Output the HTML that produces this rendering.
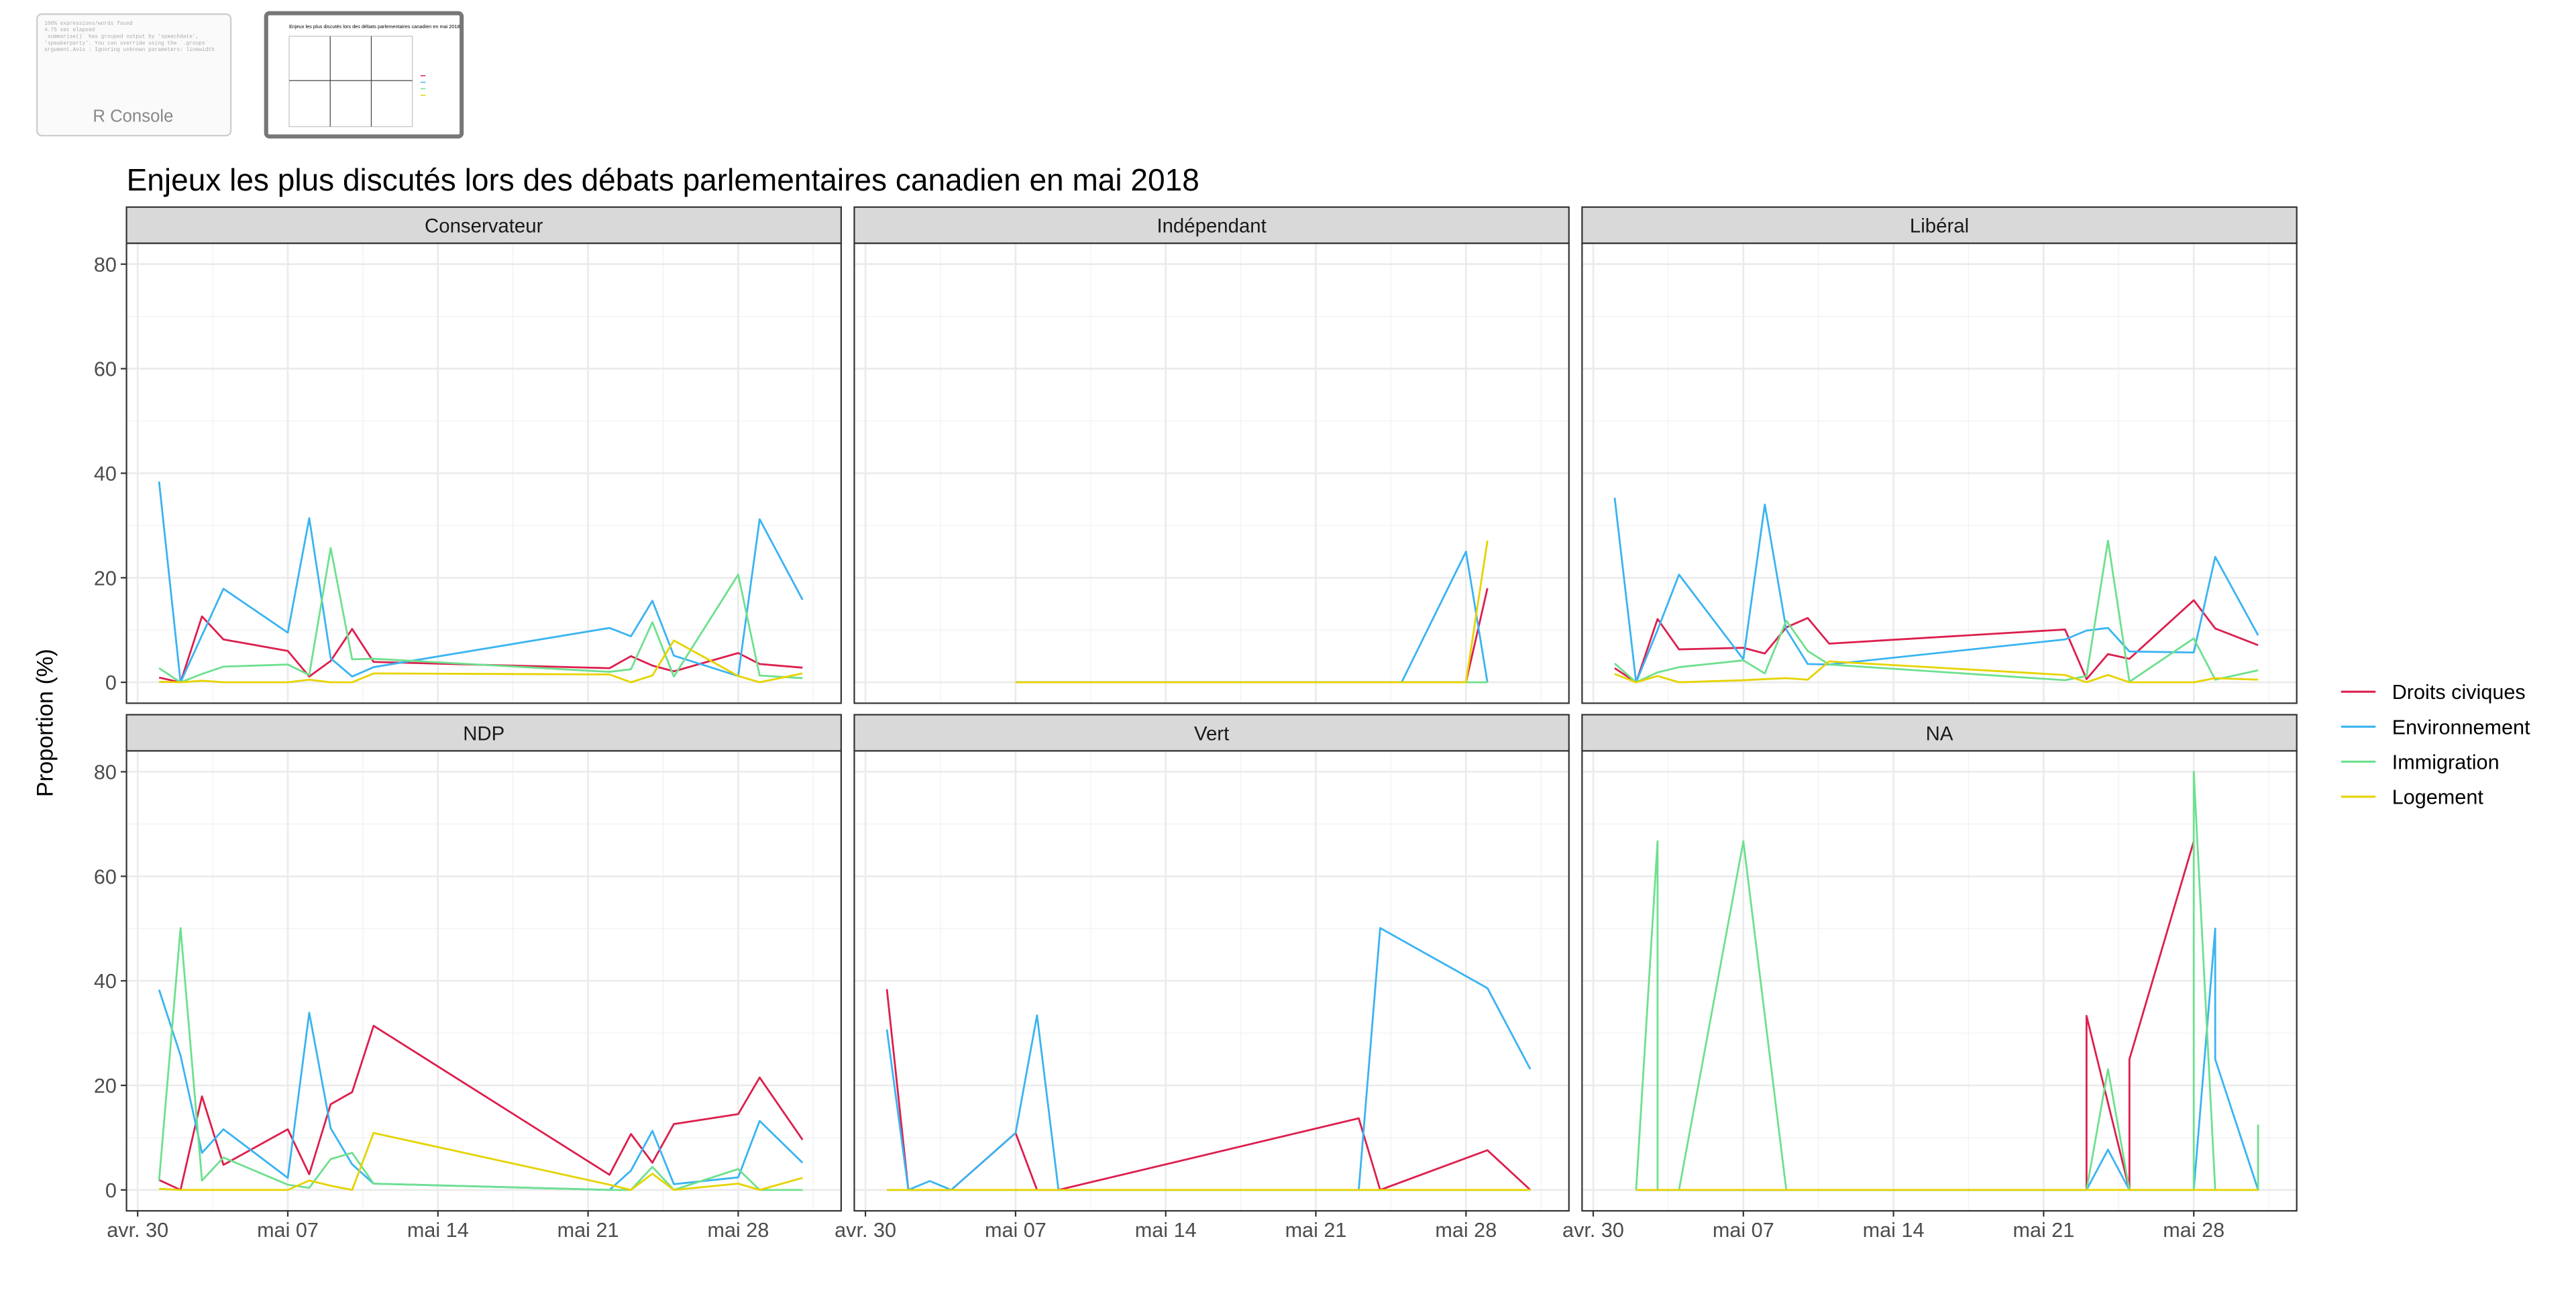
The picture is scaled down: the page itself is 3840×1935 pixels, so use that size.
<!DOCTYPE html>
<html><head><meta charset="utf-8">
<style>
html,body{margin:0;padding:0;background:#fff;}
svg{display:block;font-family:"Liberation Sans",Arial,sans-serif;}
</style></head>
<body>
<svg id="chart" width="3840" height="1935" viewBox="0 0 1568 790" xmlns="http://www.w3.org/2000/svg">
  <g>
    <rect x="22.5" y="8.5" width="118" height="74" rx="3" fill="#fafafa" stroke="#cfcfcf" stroke-width="1"/>
    <text x="27" y="15" font-size="3.2" fill="#aaa" font-family="Liberation Mono,monospace">100% expressions/words found</text>
    <text x="27" y="19" font-size="3.2" fill="#aaa" font-family="Liberation Mono,monospace">4.75 sec elapsed</text>
    <text x="27" y="23" font-size="3.2" fill="#aaa" font-family="Liberation Mono,monospace">`summarise()` has grouped output by 'speechdate',</text>
    <text x="27" y="27" font-size="3.2" fill="#aaa" font-family="Liberation Mono,monospace">'speakerparty'. You can override using the `.groups`</text>
    <text x="27" y="31" font-size="3.2" fill="#aaa" font-family="Liberation Mono,monospace">argument.Avis : Ignoring unknown parameters: linewidth</text>
    <text x="81" y="74" font-size="10.5" fill="#888" text-anchor="middle">R Console</text>
  </g>
  <g>
    <rect x="162" y="8" width="119" height="75" rx="2" fill="#fff" stroke="#777" stroke-width="2.5"/>
    <text x="176" y="17" font-size="3" fill="#000">Enjeux les plus discutés lors des débats parlementaires canadien en mai 2018</text>
    <rect x="176" y="22" width="75" height="55" fill="none" stroke="#ccc" stroke-width="0.6"/>
    <line x1="201" y1="22" x2="201" y2="77" stroke="#444" stroke-width="0.5"/>
    <line x1="226" y1="22" x2="226" y2="77" stroke="#444" stroke-width="0.5"/>
    <line x1="176" y1="49" x2="251" y2="49" stroke="#444" stroke-width="0.5"/>
    <line x1="256" y1="46" x2="259" y2="46" stroke="#dc1f4e" stroke-width="0.6"/>
    <line x1="256" y1="50" x2="259" y2="50" stroke="#3ab4f2" stroke-width="0.6"/>
    <line x1="256" y1="54" x2="259" y2="54" stroke="#6ee08e" stroke-width="0.6"/>
    <line x1="256" y1="58" x2="259" y2="58" stroke="#e6d300" stroke-width="0.6"/>
  </g>
  <text x="77" y="116" font-size="18.8" fill="#000">Enjeux les plus discutés lors des débats parlementaires canadien en mai 2018</text>
  <text transform="translate(32,440) rotate(-90)" font-size="14" text-anchor="middle" fill="#000">Proportion (%)</text>
  <g id="panels"></g>
  <g id="legend"></g>
</svg>
<script>
// ---- data ----
const seriesNames = ["Droits civiques","Environnement","Immigration","Logement"];
const seriesColors = ["#dc1f4e","#3ab4f2","#6ee08e","#e6d300"];
const panelNames = ["Conservateur","Indépendant","Libéral","NDP","Vert","NA"];
const yTicks = [0,20,40,60,80];
const xTickDays = [0,7,14,21,28];
const xTickLabels = ["avr. 30","mai 07","mai 14","mai 21","mai 28"];

// days are May day numbers (0 = April 30)
const consDays = [1,2,3,4,7,8,9,10,11,22,23,24,25,28,29,31];
const consDroits = [0.9,0,12.6,8.2,6.0,1.1,4.1,10.2,3.9,2.7,5.0,3.2,2.1,5.6,3.5,2.8];
const consEnv = [38.4,0,9.0,17.9,9.5,31.4,4.6,1.1,2.9,10.4,8.8,15.6,5.1,1.2,31.2,15.8];
const consImm = [2.7,0,1.6,3.0,3.4,1.4,25.7,4.4,4.5,2.0,2.5,11.5,1.1,20.6,1.3,0.8];
const consLog = [0.1,0,0.3,0,0,0.5,0,0,1.7,1.5,0,1.3,8.0,1.2,0,1.7];

const indDroitsDays = [7,28,29];
const indDroits = [0,0,18.0];
const indEnvDays = [7,25,28,29];
const indEnv = [0,0,25.0,0];
const indImmDays = [7,28,29];
const indImm = [0,0,0];
const indLogDays = [7,28,29];
const indLog = [0,0,27.1];

const libDays = [1,2,3,4,7,8,9,10,11,22,23,24,25,28,29,31];
const libDroits = [2.7,0,12.1,6.3,6.6,5.5,10.5,12.3,7.4,10.1,0.6,5.4,4.5,15.7,10.3,7.1];
const libEnv = [35.3,0,10.0,20.6,4.4,34.0,10.1,3.5,3.4,8.2,9.9,10.4,5.9,5.7,24.0,9.0];
const libImm = [3.6,0,1.9,2.9,4.2,1.7,11.8,6.0,3.4,0.4,1.2,27.1,0.1,8.4,0.5,2.3];
const libLog = [1.6,0,1.2,0,0.4,0.6,0.8,0.5,4.0,1.4,0,1.4,0,0,0.8,0.5];

const ndpDays = [1,2,3,4,7,8,9,10,11,22,23,24,25,28,29,31];
const ndpDroits = [1.9,0,17.9,4.8,11.6,3.0,16.4,18.7,31.4,2.9,10.7,5.2,12.6,14.5,21.5,9.6];
const ndpEnv = [38.3,25.7,7.1,11.6,2.3,33.9,11.8,4.9,1.2,0,3.7,11.3,1.1,2.4,13.2,5.2];
const ndpImm = [1.8,50.1,1.8,6.2,1.0,0.4,5.9,7.1,1.2,0,0,4.4,0,4.0,0,0];
const ndpLog = [0.2,0,0,0,0,1.8,0.8,0,10.9,1.0,0,3.1,0,1.2,0,2.3];

const vertDays = [1,2,3,4,7,8,9,23,24,29,31];
const vertDroits = [38.4,0,0,0,10.9,0,0,13.7,0,7.6,0];
const vertEnv = [30.7,0,1.7,0,10.9,33.4,0,0,50.1,38.6,23.1];
const vertImm = [0,0,0,0,0,0,0,0,0,0,0];
const vertLog = [0,0,0,0,0,0,0,0,0,0,0];

const naDroitsDays = [2,23,23,25,25,28];
const naDroits = [0,0,33.3,0,25.0,66.7];
const naEnvDays = [2,23,24,25,28,29,29,31];
const naEnv = [0,0,7.7,0,0,50.0,25.0,0];
const naImmDays = [2,3,3,4,7,9,23,24,25,28,28,29,31,31];
const naImm = [0,66.7,0,0,66.7,0,0,23.1,0,0,80.0,0,0,12.5];
const naLogDays = [2,31];
const naLog = [0,0];

const panelSeries = [
  [[consDays,consDroits],[consDays,consEnv],[consDays,consImm],[consDays,consLog]],
  [[indDroitsDays,indDroits],[indEnvDays,indEnv],[indImmDays,indImm],[indLogDays,indLog]],
  [[libDays,libDroits],[libDays,libEnv],[libDays,libImm],[libDays,libLog]],
  [[ndpDays,ndpDroits],[ndpDays,ndpEnv],[ndpDays,ndpImm],[ndpDays,ndpLog]],
  [[vertDays,vertDroits],[vertDays,vertEnv],[vertDays,vertImm],[vertDays,vertLog]],
  [[naDroitsDays,naDroits],[naEnvDays,naEnv],[naImmDays,naImm],[naLogDays,naLog]]
];

// ---- layout ----
const NS = "http://www.w3.org/2000/svg";
const colX = [77,520,963];
const PW = 435;
const rowStripTop = [126,435];
const STRIP_H = 22;
const PH = 280;
const X_MIN = -0.52, X_MAX = 32.8;
const Y_MIN = -4, Y_MAX = 84;

function mk(tag, attrs, parent){
  const e = document.createElementNS(NS, tag);
  for (const k in attrs) e.setAttribute(k, attrs[k]);
  if (parent) parent.appendChild(e);
  return e;
}

const panelsG = document.getElementById("panels");
panelNames.forEach((name, pi) => {
  const col = pi % 3, row = Math.floor(pi / 3);
  const x0 = colX[col];
  const st = rowStripTop[row];
  const py = st + STRIP_H;
  const xs = d => x0 + (d - X_MIN) / (X_MAX - X_MIN) * PW;
  const ys = v => py + (Y_MAX - v) / (Y_MAX - Y_MIN) * PH;

  const g = mk("g", {}, panelsG);
  
  

  mk("rect", {x:x0, y:py, width:PW, height:PH, fill:"#fff"}, g);
  for (let v = 10; v <= 70; v += 20) {
    mk("line", {x1:x0, x2:x0+PW, y1:ys(v), y2:ys(v), stroke:"#f2f2f2", "stroke-width":0.55}, g);
  }
  for (let d = -3.5; d <= 32; d += 7) {
    if (d < X_MIN) continue;
    mk("line", {x1:xs(d), x2:xs(d), y1:py, y2:py+PH, stroke:"#f2f2f2", "stroke-width":0.55}, g);
  }
  yTicks.forEach(v => {
    mk("line", {x1:x0, x2:x0+PW, y1:ys(v), y2:ys(v), stroke:"#ebebeb", "stroke-width":1.1}, g);
  });
  xTickDays.forEach(d => {
    mk("line", {x1:xs(d), x2:xs(d), y1:py, y2:py+PH, stroke:"#ebebeb", "stroke-width":1.1}, g);
  });

  panelSeries[pi].forEach((s, si) => {
    const [days, vals] = s;
    const pts = days.map((d, i) => xs(d).toFixed(2) + "," + ys(vals[i]).toFixed(2)).join(" ");
    const pl = mk("polyline", {points:pts, fill:"none", stroke:seriesColors[si], "stroke-width":1.15, "stroke-linejoin":"round"}, g);
    
    
  });

  mk("rect", {x:x0, y:py, width:PW, height:PH, fill:"none", stroke:"#333", "stroke-width":0.9}, g);
  const strip = mk("rect", {x:x0, y:st, width:PW, height:STRIP_H, fill:"#d9d9d9", stroke:"#333", "stroke-width":0.9}, g);
  
  
  const stxt = mk("text", {x:x0+PW/2, y:st+15.5, "font-size":12, "text-anchor":"middle", fill:"#1a1a1a"}, g);
  stxt.textContent = name;
  
  

  if (col === 0) {
    yTicks.forEach(v => {
      mk("line", {x1:x0-3.5, x2:x0, y1:ys(v), y2:ys(v), stroke:"#333", "stroke-width":0.9}, g);
      const t = mk("text", {x:x0-6, y:ys(v)+4.5, "font-size":12.5, "text-anchor":"end", fill:"#4d4d4d"}, g);
      t.textContent = v;
      
      
    });
  }
  if (row === 1) {
    xTickDays.forEach((d, i) => {
      mk("line", {x1:xs(d), x2:xs(d), y1:py+PH, y2:py+PH+3.5, stroke:"#333", "stroke-width":0.9}, g);
      const t = mk("text", {x:xs(d), y:py+PH+16, "font-size":12.5, "text-anchor":"middle", fill:"#4d4d4d"}, g);
      t.textContent = xTickLabels[i];
      
      
    });
  }
});

const lg = document.getElementById("legend");
seriesNames.forEach((n, i) => {
  const y = 421 + i * 21.3;
  const e = mk("g", {}, lg);
  
  
  mk("line", {x1:1425, x2:1446, y1:y, y2:y, stroke:seriesColors[i], "stroke-width":1.3}, e);
  const t = mk("text", {x:1456, y:y+4.5, "font-size":12.5, fill:"#000"}, e);
  t.textContent = n;
});
</script>
</body></html>
